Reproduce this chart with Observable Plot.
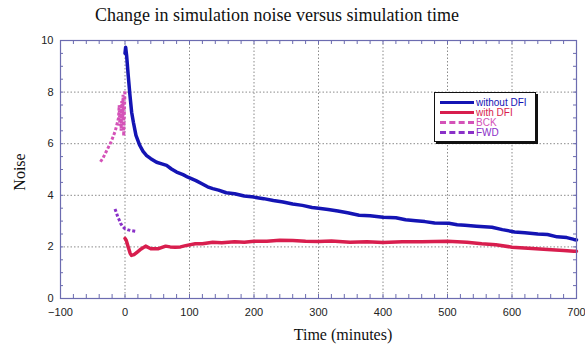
<!DOCTYPE html>
<html><head><meta charset="utf-8">
<script src="https://cdn.jsdelivr.net/npm/d3@7"></script>
<script src="https://cdn.jsdelivr.net/npm/@observablehq/plot@0.6"></script>
<style>
body{margin:0;background:#fff;}
#wrap{position:relative;width:585px;height:349px;overflow:hidden;}
#title{position:absolute;left:277px;top:5px;transform:translateX(-50%);white-space:nowrap;font:18px "Liberation Serif","Times New Roman",serif;color:#111;}
#xlab{position:absolute;left:343px;top:326px;transform:translateX(-50%);white-space:nowrap;font:16px "Liberation Serif","Times New Roman",serif;color:#111;}
#ylab{position:absolute;left:20px;top:172px;transform:translate(-50%,-50%) rotate(-90deg);white-space:nowrap;font:16px "Liberation Serif","Times New Roman",serif;color:#111;}
#legend{position:absolute;left:434px;top:92px;width:102px;height:50px;border:1px solid #111;background:#fff;box-shadow:2px 2px 0 #111;box-sizing:border-box;padding-top:4px;}
.row{display:flex;align-items:center;height:10px;font:10px "Liberation Sans",Arial,sans-serif;}
.sw{width:34px;margin-left:5px;margin-right:2px;height:0;}
</style>
</head><body>
<div id="wrap">
<div id="chart"></div>
<div id="title">Change in simulation noise versus simulation time</div>
<div id="xlab">Time (minutes)</div>
<div id="ylab">Noise</div>
<div id="legend"></div>
</div>
<script>
const seriesNames = ["without DFI", "with DFI", "BCK", "FWD"];
const seriesColors = ["#1414b4", "#d81e4e", "#d452b8", "#8a30c8"];
const seriesDashed = [false, false, true, true];

const tBlue = [0,1,2.5,5,7.7,10.3,13,17,23,28,33.5,40,49,57,64.5,72,80,90,97.5,110,120,128,136,145,157,170,185,200,215,230,245,260,275,290,300,315,330,345,363,380,400,420,435,451,465,480,502,515,527,545,569,585,604,620,640,655,670,685,696,700];
const vBlue = [9.5,9.74,9.42,8.64,7.87,7.22,6.83,6.32,5.93,5.7,5.54,5.42,5.28,5.22,5.16,5.02,4.9,4.8,4.7,4.57,4.44,4.33,4.26,4.2,4.1,4.06,3.97,3.93,3.87,3.8,3.74,3.66,3.61,3.53,3.5,3.45,3.39,3.32,3.23,3.21,3.15,3.13,3.05,3.01,2.98,2.93,2.92,2.86,2.84,2.8,2.76,2.67,2.58,2.55,2.5,2.48,2.39,2.36,2.29,2.27];

const tRed = [0,2,5,8,10,14,19,25,32,40,52,63,70,78,86,94,109,120,136,150,170,185,200,220,240,260,280,300,320,349,375,400,430,460,500,530,553,575,600,625,655,680,696,700];
const vRed = [2.33,2.25,2.0,1.75,1.67,1.7,1.8,1.92,2.03,1.93,1.93,2.03,2.0,1.99,2.0,2.05,2.12,2.12,2.18,2.16,2.2,2.18,2.22,2.22,2.26,2.25,2.22,2.21,2.23,2.18,2.2,2.17,2.2,2.2,2.22,2.18,2.12,2.08,1.99,1.95,1.9,1.86,1.83,1.83];

const tBck = [-38,-34,-30,-26,-22,-18,-15,-12,-10,-9,-8,-7,-6,-5,-4,-3,-2,-1,0];
const vBck = [5.3,5.45,5.65,5.85,6.05,6.3,6.5,6.8,7.0,7.5,6.7,7.3,6.5,7.65,7.0,7.9,6.3,7.2,8.1];

const tFwd = [-15.5,-13,-11,-9,-6.6,-4,-1,1,5,10,17.5];
const vFwd = [3.47,3.3,3.15,3.05,2.9,2.8,2.72,2.7,2.66,2.63,2.6];

const xMajor = [-100,0,100,200,300,400,500,600,700];
const yMajor = [0,2,4,6,8,10];
const xMinor = d3.range(-100, 701, 20);
const yMinor = d3.range(0, 10.01, 0.5);

const toRows = (ts, vs) => ts.map((t, i) => ({t, v: vs[i]}));
const blue = toRows(tBlue, vBlue), red = toRows(tRed, vRed), bck = toRows(tBck, vBck), fwd = toRows(tFwd, vFwd);

const W = 585, H = 349, mT = 40, mB = 51, mL = 60, mR = 9;
const innerW = W - mL - mR, innerH = H - mT - mB;
const xTick = 4, yTick = 3;

const frameColor = "#6c6cb0";
const gridStyle = {stroke: "#8a8a8a", strokeOpacity: 1, strokeDasharray: "1.5,2"};

const chart = Plot.plot({
  width: W, height: H,
  marginTop: mT, marginBottom: mB, marginLeft: mL, marginRight: mR,
  x: {domain: [-100, 700]},
  y: {domain: [0, 10]},
  style: {fontFamily: "'Liberation Sans', Arial, sans-serif", fontSize: "11px", color: "#222", background: "white", overflow: "visible"},
  marks: [
    Plot.gridX(xMajor.slice(1, -1), gridStyle),
    Plot.gridY(yMajor.slice(1, -1), gridStyle),
    Plot.tickX(xMinor, {x: d => d, insetTop: innerH - xTick, stroke: frameColor}),
    Plot.tickX(xMinor, {x: d => d, insetBottom: innerH - xTick, stroke: frameColor}),
    Plot.tickY(yMinor, {y: d => d, insetRight: innerW - yTick, stroke: frameColor}),
    Plot.tickY(yMinor, {y: d => d, insetLeft: innerW - yTick, stroke: frameColor}),
    Plot.axisX(xMajor, {anchor: "bottom", tickSize: 0, tickPadding: 10, label: null, fill: "#222"}),
    Plot.axisY(yMajor, {anchor: "left", tickSize: 0, tickPadding: 7, label: null, fill: "#222"}),
    Plot.line(bck, {x: "t", y: "v", stroke: seriesColors[2], strokeWidth: 3, strokeDasharray: "3,2", strokeLinecap: "butt", strokeLinejoin: "miter"}),
    Plot.line(fwd, {x: "t", y: "v", stroke: seriesColors[3], strokeWidth: 3, strokeDasharray: "3,2", strokeLinecap: "butt", strokeLinejoin: "miter"}),
    Plot.line(red, {x: "t", y: "v", stroke: seriesColors[1], strokeWidth: 3.5}),
    Plot.line(blue, {x: "t", y: "v", stroke: seriesColors[0], strokeWidth: 3.5}),
    Plot.frame({stroke: frameColor, strokeWidth: 1.2})
  ]
});
document.getElementById("chart").appendChild(chart);

const legend = document.getElementById("legend");
seriesNames.forEach((name, i) => {
  const row = document.createElement("div");
  row.className = "row";
  const sw = document.createElement("div");
  sw.className = "sw";
  sw.style.borderTop = `3px ${seriesDashed[i] ? "dashed" : "solid"} ${seriesColors[i]}`;
  const tx = document.createElement("span");
  tx.textContent = name;
  tx.style.color = seriesColors[i];
  row.appendChild(sw); row.appendChild(tx);
  legend.appendChild(row);
});
</script>
</body></html>
